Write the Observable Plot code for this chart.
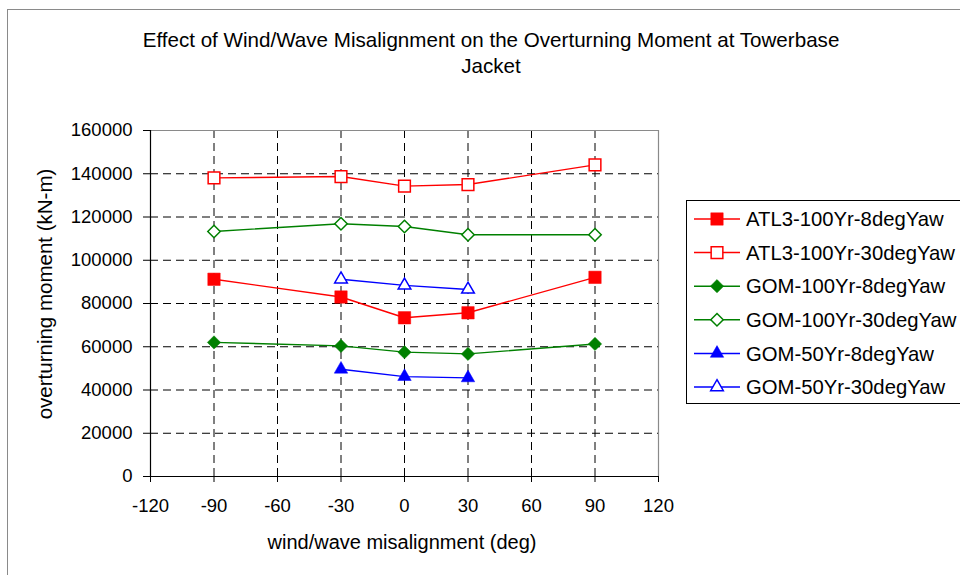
<!DOCTYPE html>
<html>
<head>
<meta charset="utf-8">
<script src="https://cdn.jsdelivr.net/npm/d3@7"></script>
<script src="https://cdn.jsdelivr.net/npm/@observablehq/plot@0.6"></script>
<style>
  body { margin: 0; background: #fff; }
  #wrap { position: relative; width: 960px; height: 575px; overflow: hidden; font-family: "Liberation Sans", Arial, sans-serif; color: #000; }
  #border { position: absolute; left: 7px; top: 9px; width: 1000px; height: 700px; border: 1.5px solid #8a8a8a; }
  #title { position: absolute; left: 0; width: 982px; top: 27px; text-align: center; font-size: 20.6px; line-height: 26px; }
  #chart { position: absolute; left: 0; top: 0; }
  #ylabel { position: absolute; left: 45px; top: 294px; transform: translate(-50%, -50%) rotate(-90deg); font-size: 20.5px; white-space: nowrap; }
  #xlabel { position: absolute; left: 402px; top: 542px; transform: translate(-50%, -50%); font-size: 20px; white-space: nowrap; }
  #legend { position: absolute; left: 686px; top: 200px; width: 290px; height: 204px; box-sizing: border-box; border: 1px solid #000; background: #fff; }
</style>
</head>
<body>
<div id="wrap">
  <div id="border"></div>
  <div id="chart"></div>
  <div id="title">Effect of Wind/Wave Misalignment on the Overturning Moment at Towerbase<br>Jacket</div>
  <div id="ylabel">overturning moment (kN-m)</div>
  <div id="xlabel">wind/wave misalignment (deg)</div>
  <div id="legend"></div>
</div>
<script>
// ---- data ----
const seriesNames = [
  "ATL3-100Yr-8degYaw",
  "ATL3-100Yr-30degYaw",
  "GOM-100Yr-8degYaw",
  "GOM-100Yr-30degYaw",
  "GOM-50Yr-8degYaw",
  "GOM-50Yr-30degYaw"
];
const anglesFull = [-90, -30, 0, 30, 90];
const anglesShort = [-30, 0, 30];

const atl3_100_8 = [91200, 83000, 73400, 75700, 92100];
const atl3_100_30 = [138100, 138700, 134300, 135000, 144100];
const gom_100_8 = [62000, 60400, 57500, 56700, 61300];
const gom_100_30 = [113300, 116900, 115600, 111800, 111800];
const gom_50_8 = [49600, 46200, 45600];
const gom_50_30 = [91200, 88400, 86500];

const xTicks = [-120, -90, -60, -30, 0, 30, 60, 90, 120];
const yTicks = [0, 20000, 40000, 60000, 80000, 100000, 120000, 140000, 160000];

// ---- table built from arrays ----
const seriesValues = [atl3_100_8, atl3_100_30, gom_100_8, gom_100_30, gom_50_8, gom_50_30];
const seriesAngles = [anglesFull, anglesFull, anglesFull, anglesFull, anglesShort, anglesShort];
const rows = [];
seriesNames.forEach((name, i) => {
  seriesValues[i].forEach((v, j) => rows.push({series: name, angle: seriesAngles[i][j], value: v}));
});

// ---- styles ----
const styles = {
  "ATL3-100Yr-8degYaw":  {color: "#ff0000", symbol: "square",   fill: true,  r: 7.0},
  "ATL3-100Yr-30degYaw": {color: "#ff0000", symbol: "square",   fill: false, r: 6.6},
  "GOM-100Yr-8degYaw":   {color: "#008000", symbol: "diamond2", fill: true,  r: 6.0},
  "GOM-100Yr-30degYaw":  {color: "#008000", symbol: "diamond2", fill: false, r: 5.6},
  "GOM-50Yr-8degYaw":    {color: "#0000ff", symbol: "triangle", fill: true,  r: 5.0},
  "GOM-50Yr-30degYaw":   {color: "#0000ff", symbol: "triangle", fill: false, r: 4.7}
};

const marks = [
  Plot.gridX(xTicks.filter(d => d > -120 && d < 120), {stroke: "#000", strokeOpacity: 1, strokeDasharray: "8,5", strokeWidth: 1}),
  Plot.gridY(yTicks.filter(d => d > 0 && d < 160000), {stroke: "#000", strokeOpacity: 1, strokeDasharray: "8,5", strokeWidth: 1}),
  Plot.ruleX([120], {stroke: "#8a8a8a", strokeWidth: 1.2}),
  Plot.ruleY([160000], {stroke: "#8a8a8a", strokeWidth: 1.2}),
  Plot.ruleX([-120], {stroke: "#000", strokeWidth: 1.2}),
  Plot.ruleY([0], {stroke: "#000", strokeWidth: 1.2}),
  Plot.axisX({ticks: xTicks, tickSize: 6, tickPadding: 16, tickFormat: d => String(d), fontSize: 18.5, label: null, stroke: "#000"}),
  Plot.axisY({ticks: yTicks, tickSize: 7, tickPadding: 11, tickFormat: d => String(d), fontSize: 18.5, label: null, stroke: "#000"})
];
seriesNames.forEach(name => {
  const s = styles[name];
  const data = rows.filter(d => d.series === name);
  marks.push(Plot.line(data, {x: "angle", y: "value", stroke: s.color, strokeWidth: 1.4}));
  marks.push(Plot.dot(data, {x: "angle", y: "value", symbol: () => s.symbol, r: s.r,
    fill: s.fill ? s.color : "#fff", stroke: s.color, strokeWidth: s.fill ? 0.5 : 1.5}));
});

const chart = Plot.plot({
  width: 960,
  height: 575,
  marginLeft: 150,
  marginRight: 302,
  marginTop: 130,
  marginBottom: 99,
  x: {domain: [-120, 120]},
  y: {domain: [0, 160000]},
  symbol: {domain: ["square", "diamond2", "triangle"], range: ["square", "diamond2", "triangle"]},
  style: {fontFamily: "'Liberation Sans', Arial, sans-serif", fontSize: "18px", color: "#000", background: "transparent", overflow: "visible"},
  marks
});
document.getElementById("chart").appendChild(chart);

// ---- legend ----
const lw = 290, lh = 204;
const lsvg = d3.select("#legend").append("svg").attr("width", lw - 2).attr("height", lh - 2)
  .style("font-family", "'Liberation Sans', Arial, sans-serif").style("font-size", "20.3px");
const symMap = {square: d3.symbolSquare, diamond2: d3.symbolDiamond2, triangle: d3.symbolTriangle};
seriesNames.forEach((name, i) => {
  const s = styles[name];
  const cy = 18 + i * 33.6;
  const g = lsvg.append("g").attr("transform", `translate(0,${cy})`);
  g.append("line").attr("x1", 7).attr("x2", 53).attr("y1", 0).attr("y2", 0).attr("stroke", s.color).attr("stroke-width", 1.5);
  g.append("path").attr("transform", "translate(30,0)")
    .attr("d", d3.symbol(symMap[s.symbol], Math.PI * s.r * s.r)())
    .attr("fill", s.fill ? s.color : "#fff").attr("stroke", s.color).attr("stroke-width", s.fill ? 0.5 : 1.5);
  g.append("text").attr("x", 59).attr("y", 0).attr("dy", "0.35em").text(name);
});
</script>
</body>
</html>
